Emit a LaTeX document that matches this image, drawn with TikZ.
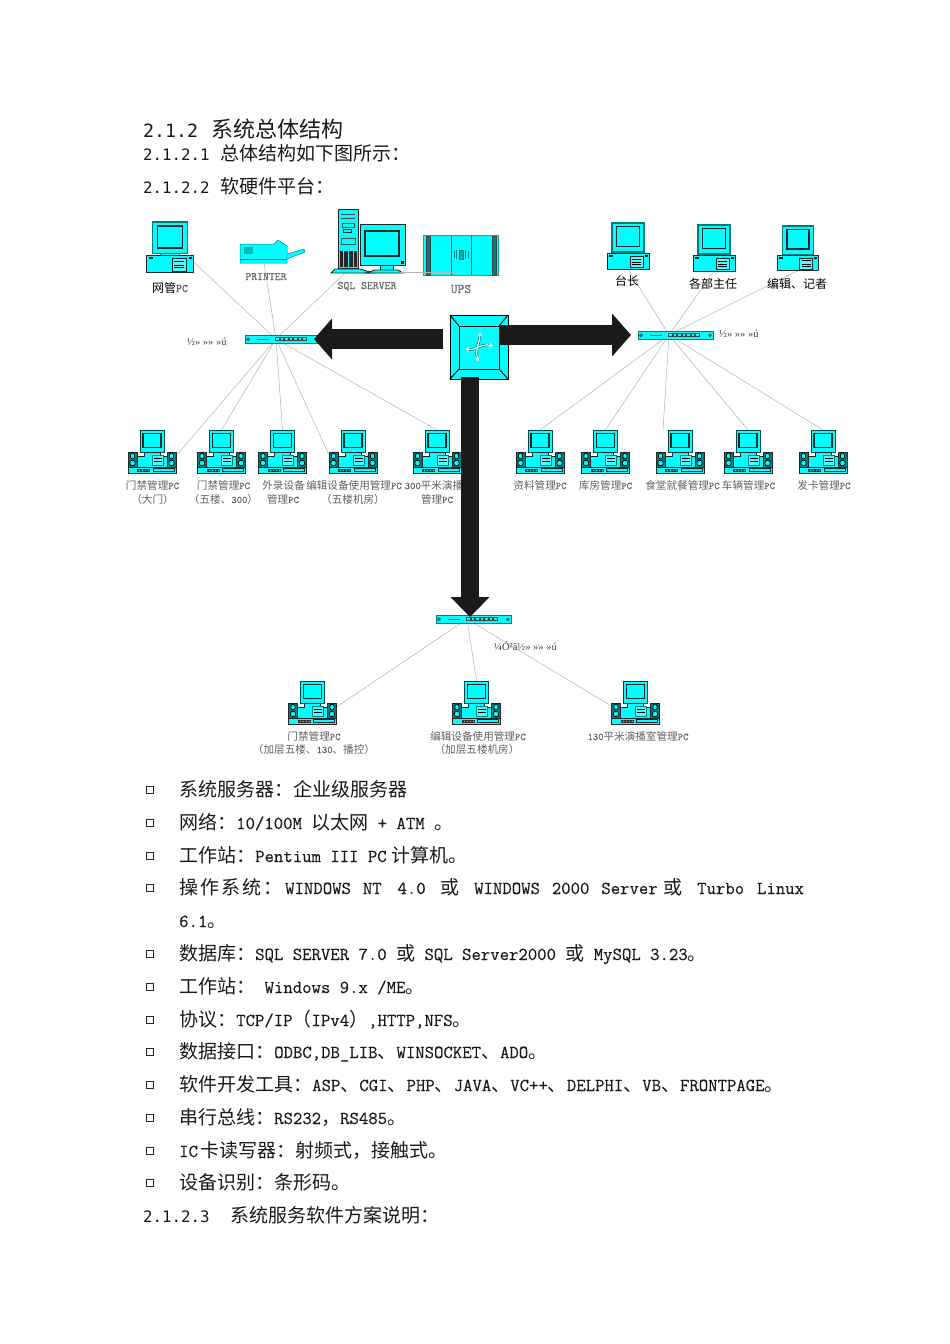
\documentclass[tikz,border=0pt]{standalone}
\usepackage{fontspec}
\setmainfont{Noto Sans CJK SC}
\setmonofont[Scale=.96,FakeBold=.25]{Latin Modern Mono}
\newfontfamily\headmono[Scale=.83]{DejaVu Sans Mono}
\newfontfamily\mojifont{Liberation Serif}
\usetikzlibrary{arrows.meta,backgrounds}
\definecolor{iconcyan}{HTML}{00FFFF}
\definecolor{iconteal}{HTML}{007C7C}
\definecolor{bigblack}{HTML}{1A1A1A}
\newcommand{\la}[1]{{\ttfamily #1}}
\newcommand{\hd}[1]{{\headmono #1}}
\tikzset{font=\fontsize{19}{23}\selectfont}
\tikzset{iconedge/.style={draw=black!85,fill=iconcyan,line width=.9pt}}
\tikzset{tealedge/.style={draw=iconteal,fill=iconcyan,line width=1.1pt}}
\tikzset{screenedge/.style={draw=black!85,fill=iconcyan,line width=1.5pt}}
\tikzset{linkline/.style={draw=black!30,line width=.5pt}}
\tikzset{bodyrow/.style={anchor=base west,inner sep=0pt,text=black!90}}
\tikzset{dotbox/.style={draw=black!85,line width=.9pt,inner sep=0pt,minimum size=7pt}}
\tikzset{pclabel/.style={anchor=base,inner sep=0pt,text=black!62,font=\fontsize{10.6}{12}\selectfont}}
\tikzset{toplabel/.style={anchor=base,inner sep=0pt,text=black,font=\fontsize{12}{14}\selectfont}}
\tikzset{devlabel/.style={anchor=base,inner sep=0pt,text=black!60,font=\fontsize{11.9}{13}\selectfont\ttfamily}}
\tikzset{mojilabel/.style={anchor=base west,inner sep=0pt,text=black!75,font=\fontsize{10.5}{12}\selectfont\mojifont}}
\tikzset{bigarrow/.style={draw=bigblack,line width=20pt}}
\tikzset{
  pics/deskpc/.style={code={
    \draw[tealedge] (-16,0) rectangle (16,29);
    \draw[screenedge] (-11.5,3.5) rectangle (11.5,23.5);
    \draw[tealedge] (-9,29) rectangle (9,31);
    \draw[iconedge] (-21,30.5) rectangle (21,46);
    \draw[iconedge,fill=iconcyan!70!white] (2,33) rectangle (15,44.5);
    \draw[line width=.9pt] (4,36) -- (13,36);
    \draw[line width=.4pt] (4,39) -- (13,39) (4,41.5) -- (13,41.5);
    \fill[black] (-19.5,32) rectangle (-15.5,34);
    \fill[black] (17,32) rectangle (20,34);
    \coordinate (-east) at (21,36);
    \coordinate (-bottom) at (0,46);
  }},
  pics/deskset/.style={code={
    \draw[iconedge,draw=iconteal!60!black] (-12,0) rectangle (12,22);
    \draw[screenedge] (-9,3.5) rectangle (9,17.5);
    \draw[iconedge] (-15,37) -- (-15,26) -- (-8,26) -- (-8,22) -- (8,22) -- (8,26) -- (15,26) -- (15,37) -- cycle;
    \draw[iconedge,fill=iconcyan!70!white,draw=iconteal] (0,25) rectangle (11,35);
    \draw[line width=.4pt] (1.5,28) -- (9.5,28) (1.5,31) -- (9.5,31);
    \foreach \sx in {-19.5,19.5} {
      \draw[iconedge,fill=iconteal] (\sx-4.5,22) rectangle (\sx+4.5,37);
      \draw[draw=black,fill=iconcyan,line width=.7pt] (\sx,26) ellipse (2.2pt and 3pt);
      \draw[draw=black,fill=iconcyan,line width=.7pt] (\sx,33) circle (2.8pt);
    }
    \draw[iconedge] (-24,37) rectangle (24,43);
    \fill[black!80] (-15,38.5) rectangle (-2,41.5);
    \foreach \kx in {-13,-10,-7,-4} \fill[iconcyan] (\kx,39.5) rectangle +(1.4,1.2);
    \draw[draw=black!85,fill=iconcyan,line width=.9pt] (1,38.5) rectangle (22,41.5);
    \coordinate (-top) at (0,0);
    \coordinate (-east) at (24,26);
    \coordinate (-west) at (-24,25);
  }},
  pics/hub/.style={code={
    \fill[iconcyan] (0,0) rectangle (75,8.5);
    \draw[draw=iconteal,line width=.3pt] (0,0) rectangle (75,8.5);
    \draw[draw=black!75,fill=iconteal,line width=.4pt] (3,4.2) circle (1.6pt);
    \draw[draw=black!75,fill=iconteal,line width=.4pt] (72,4.2) circle (1.6pt);
    \draw[draw=iconteal,line width=.5pt] (12,4.2) -- (24,4.2);
    \fill[black!75] (30,2.4) rectangle (62,6.2);
    \foreach \px in {31,35.5,...,58} \fill[iconcyan] (\px,3.3) rectangle +(2.6,1.8);
    \coordinate (-port) at (31,4);
    \coordinate (-east) at (69,4);
    \coordinate (-west) at (-7,4);
    \coordinate (-tip) at (34,2);
  }},
  pics/switchbox/.style={code={
    \fill[iconcyan] (0,0) rectangle (58,64);
    \draw[draw=black,line width=1pt] (0,0) rectangle (58,64);
    \draw[draw=black,line width=.9pt] (9,11) rectangle (49,54);
    \draw[draw=black,line width=.9pt] (0,0) -- (9,11) (58,0) -- (49,11) (0,64) -- (9,54) (58,64) -- (49,54);
    \foreach \lw/\cl in {2.4/iconteal,1.2/white} {
      \draw[draw=\cl,line width=\lw pt,{Stealth[length=4pt,width=6pt]}-{Stealth[length=4pt,width=6pt]}] (30,17.5) .. controls (30,27) and (25,33) .. (28,46.5);
      \draw[draw=\cl,line width=\lw pt,{Stealth[length=4pt,width=6pt]}-{Stealth[length=4pt,width=6pt]}] (15.5,34) .. controls (26,36) and (30,28) .. (43,31);
    }
    \coordinate (-west) at (0,24);
    \coordinate (-east) at (49,20);
    \coordinate (-south) at (20,62);
  }},
  pics/serverset/.style={code={
    \draw[iconedge] (0,0) rectangle (20,59);
    \draw[draw=black!70,line width=.4pt] (3,5) -- (17,5) (3,9) -- (17,9) (4,14) rectangle (16,18);
    \draw[draw=black!85,line width=.8pt] (5,20) rectangle (13,23);
    \draw[draw=black!70,line width=.4pt] (3,29) rectangle (17,35);
    \fill[black!85] (2,42) rectangle (19,58);
    \foreach \bx in {5,10,15} \draw[iconcyan,line width=.7pt] (\bx,42) -- (\bx,58);
    \draw[iconedge] (-7,64) -- (-3,60) -- (22,60) -- (35,64) -- cycle;
    \draw[iconedge] (22,15.5) rectangle (67,56);
    \draw[screenedge] (27,22) rectangle (61,47);
    \draw[iconedge] (42,56) rectangle (55,61);
    \draw[iconedge] (28,64) -- (37,61) -- (60,61) -- (65,64) -- cycle;
    \fill[black] (63,51.5) rectangle (66,55);
    \coordinate (-south) at (7,64);
    \coordinate (-east) at (62,63);
  }},
  pics/printerset/.style={code={
    \draw[draw=iconteal,fill=iconcyan,line width=.5pt] (0,4) -- (34,4) -- (38,0) -- (47,6) -- (47,23) -- (0,23) -- cycle;
    \draw[draw=iconteal,line width=.4pt] (0,19) -- (47,19);
    \draw[draw=iconteal!60!iconcyan,fill=iconteal!50!iconcyan,line width=.3pt] (4,7) rectangle (12,13);
    \draw[draw=iconteal,fill=iconcyan,line width=.4pt] (47,14) -- (64,9) -- (65,12) -- (47,19) -- cycle;
    \coordinate (-bottom) at (24,23);
  }},
  pics/upsbox/.style={code={
    \draw[draw=iconteal!60!iconcyan,fill=iconcyan,line width=.5pt] (0,0) rectangle (75,40);
    \draw[draw=black!75,fill=iconteal,line width=.4pt] (3,1) rectangle (7.5,40);
    \draw[draw=black!75,fill=iconteal,line width=.4pt] (69,1) rectangle (73,40);
    \draw[draw=iconteal,line width=.4pt] (28,0) -- (28,40) (48,0) -- (48,40);
    \draw[draw=iconteal,fill=iconteal!60!iconcyan,line width=.3pt] (36,15) rectangle (40,24);
    \draw[draw=iconteal,line width=.3pt] (31,16) -- (31,23) (33.5,15) -- (33.5,24) (42.5,15) -- (42.5,24) (45,16) -- (45,23);
    \coordinate (-port) at (32,37);
  }},
}

\begin{document}
\begin{tikzpicture}[x=1pt,y=-1pt]
  \useasboundingbox (0,0) rectangle (950,1344);
  % heading
  \node[bodyrow,font=\fontsize{22}{26}\selectfont] (head) at (143,137) {\hd{2.1.2}\kern13pt 系统总体结构};
  \node[bodyrow] (sub1) at (143,160) {\hd{2.1.2.1}\kern11pt 总体结构如下图所示：};
  \node[bodyrow] (sub2) at (143,193) {\hd{2.1.2.2}\kern11pt 软硬件平台：};
  % devices
  \pic[scale=1.1] (mgr) at (170,222) {deskpc};
  \pic (prn) at (240,240) {printerset};
  \pic (srv) at (338,209) {serverset};
  \pic (ups) at (423,235) {upsbox};
  \pic (tai) at (628,223) {deskpc};
  \pic (bumen) at (714,225) {deskpc};
  \pic[scale=.97] (bianji) at (798,226) {deskpc};
  \pic (hubL) at (245,335) {hub};
  \pic (hubR) at (638,331) {hub};
  \pic (hubB) at (436,615) {hub};
  \pic (core) at (450,315) {switchbox};
  \foreach \n/\x in {wa/152,wb/221.5,wc/282.5,wd/353,we/437,ra/540,rb/605.5,rc/680,rd/748,re/823}
    \pic (\n) at (\x,430) {deskset};
  \foreach \n/\x in {ba/312.5,bb/476.5,bc/635.5}
    \pic (\n) at (\x,681) {deskset};
  \coordinate (rcend) at (663,430);
  % links
  \begin{scope}[on background layer]
    \foreach \n in {mgr-east,prn-bottom,srv-south,wa-east,wb-top,wc-top,wd-west,we-top}
      \draw[linkline] (hubL-port) -- (\n);
    \foreach \n in {tai-bottom,bumen-bottom,bianji-bottom,ra-top,rb-top,rcend,rd-top,re-top}
      \draw[linkline] (hubR-port) -- (\n);
    \foreach \n in {ba-east,bb-top,bc-west}
      \draw[linkline] (hubB-port) -- (\n);
  \end{scope}
  \draw[linkline] (srv-east) -- (ups-port);
  % device labels
  \node[toplabel] (lmgr) at (170,292) {网管{\color{black!65}\la{PC}}};
  \node[devlabel] (lprn) at (266,280) {PRINTER};
  \node[devlabel] (lsrv) at (367,289) {SQL SERVER};
  \node[devlabel,font=\fontsize{13.7}{15}\selectfont\ttfamily] (lups) at (461,293) {UPS};
  \node[toplabel] (ltai) at (627,285) {台长};
  \node[toplabel] (lbumen) at (713,288) {各部主任};
  \node[toplabel] (lbianji) at (797,288) {编辑、记者};
  \node[mojilabel] (mojiL) at (187,345) {½» »» »ú};
  \node[mojilabel] (mojiR) at (719,337) {½» »» »ú};
  \node[mojilabel] (mojiB) at (494,650) {¼Ó²ã½» »» »ú};
  % pc labels
  \node[pclabel] (la1) at (152.5,489) {门禁管理\la{PC}};
  \node[pclabel] (la2) at (152.5,503) {（大门）};
  \node[pclabel] (lb1) at (223.5,489) {门禁管理\la{PC}};
  \node[pclabel] (lb2) at (223.5,503) {（五楼、\la{300}）};
  \node[pclabel] (lc1) at (283.5,489) {外录设备};
  \node[pclabel] (lc2) at (283,503) {管理\la{PC}};
  \node[pclabel] (ld1) at (354,489) {编辑设备使用管理\la{PC}};
  \node[pclabel] (ld2) at (353,503) {（五楼机房）};
  \node[pclabel] (le1) at (434,489) {\la{300}平米演播};
  \node[pclabel] (le2) at (437,503) {管理\la{PC}};
  \node[pclabel] (lra) at (540,489) {资料管理\la{PC}};
  \node[pclabel] (lrb) at (605.5,489) {库房管理\la{PC}};
  \node[pclabel] (lrc) at (682.5,489) {食堂就餐管理\la{PC}};
  \node[pclabel] (lrd) at (748.5,489) {车辆管理\la{PC}};
  \node[pclabel] (lre) at (824,489) {发卡管理\la{PC}};
  \node[pclabel] (lba1) at (314,740) {门禁管理\la{PC}};
  \node[pclabel] (lba2) at (314,753) {（加层五楼、\la{130}、播控）};
  \node[pclabel] (lbb1) at (478,740) {编辑设备使用管理\la{PC}};
  \node[pclabel] (lbb2) at (477,753) {（加层五楼机房）};
  \node[pclabel] (lbc) at (638,740) {\la{130}平米演播室管理\la{PC}};
  % trunk arrows
  \draw[bigarrow,shorten <=7pt,-{Triangle[length=18pt,width=40pt]}] (core-west) -- (hubL-east);
  \draw[bigarrow,-{Triangle[length=19pt,width=42pt]}] (core-east) -- (hubR-west);
  \draw[bigarrow,line width=18pt,-{Triangle[length=20pt,width=38pt]}] (core-south) -- (hubB-tip);
  % text rows
  \foreach \i/\y/\t in {
    1/796/{系统服务器：企业级服务器},
    2/829/{网络：\la{10/100M\ }以太网\la{\ + ATM\ }。},
    3/862/{工作站：\la{Pentium III PC}\kern5pt 计算机。},
    4/894/{操\kern2pt 作\kern2pt 系\kern2pt 统\kern2pt ：\kern3pt\la{WINDOWS\kern2.5pt{} NT\kern6.5pt{} 4.0}\kern14.5pt 或\kern15pt\la{WINDOWS\kern2.5pt{} 2000\kern2.5pt{} Server}\kern5.5pt 或\kern15pt\la{Turbo\kern3.5pt{} Linux}},
    5/927/{\la{6.1}。},
    6/960/{数据库：\la{SQL SERVER 7.0\ }或\la{\ SQL Server2000\ }或\la{\ MySQL 3.23}。},
    7/993/{工作站：\la{\ Windows 9.x /ME}。},
    8/1026/{协议：\la{TCP/IP}（\la{IPv4}）\la{,HTTP,NFS}。},
    9/1058/{数据接口：\la{ODBC,DB\_LIB}、\la{WINSOCKET}、\la{ADO}。},
    10/1091/{软件开发工具：\la{ASP}、\la{CGI}、\la{PHP}、\la{JAVA}、\la{VC++}、\la{DELPHI}、\la{VB}、\la{FRONTPAGE}。},
    11/1124/{串行总线：\la{RS232}，\la{RS485}。},
    12/1157/{\la{IC}\kern3pt 卡读写器：射频式，接触式。},
    13/1189/{设备识别：条形码。}}
    \node[bodyrow] (row\i) at (179,\y) {\t};
  \foreach \i/\y in {1/796,2/829,3/862,4/894,6/960,7/993,8/1026,9/1058,10/1091,11/1124,12/1157,13/1189}
    \node[dotbox] (dot\i) at (150,\y-6) {};
  \node[bodyrow] (last) at (143,1222) {\hd{2.1.2.3}\kern21pt 系统服务软件方案说明：};
\end{tikzpicture}
\end{document}
